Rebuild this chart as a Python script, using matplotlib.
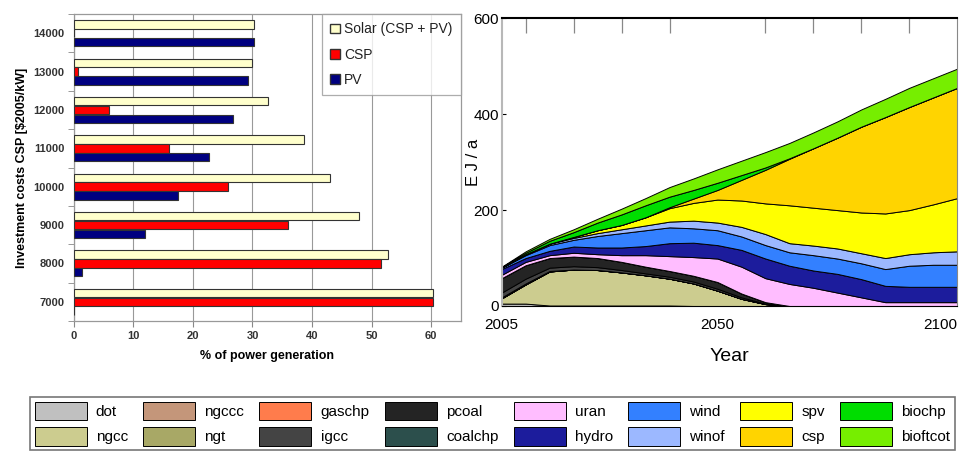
import matplotlib
matplotlib.use('Agg')
import matplotlib.pyplot as plt
from matplotlib.patches import Patch
import numpy as np

NARROW = ['Liberation Sans Narrow', 'Liberation Sans', 'DejaVu Sans']
plt.rcParams['font.family'] = ['Liberation Sans', 'DejaVu Sans']

# left chart: share of power generation vs. CSP investment cost
costs = ['7000', '8000', '9000', '10000', '11000', '12000', '13000', '14000']
solar = [60.3, 52.8, 47.9, 43.1, 38.6, 32.6, 30.0, 30.3]
csp_share = [60.3, 51.6, 36.0, 25.9, 15.9, 5.9, 0.7, 0.0]
pv_share = [0.0, 1.3, 12.0, 17.4, 22.7, 26.8, 29.3, 30.3]

# right chart: generation by technology, EJ/a (layer thickness, bottom to top)
years = [2005, 2010, 2015, 2020, 2025, 2030, 2035, 2040, 2045, 2050,
         2055, 2060, 2065, 2070, 2075, 2080, 2085, 2090, 2095, 2100]
dot = [5, 5, 1, 1, 1, 1, 1, 1, 0, 0, 0, 0, 0, 0, 0, 0, 0, 0, 0, 0]
ngcc = [11, 40, 71, 75, 74, 69, 63, 56, 47, 32, 15, 4, 0, 0, 0, 0, 0, 0, 0, 0]
ngccc = [0] * 20
ngt = [0] * 20
gaschp = [2, 2, 1, 0, 0, 0, 0, 0, 0, 0, 0, 0, 0, 0, 0, 0, 0, 0, 0, 0]
igcc = [10, 10, 7, 7, 6, 5, 4, 4, 4, 4, 3, 1, 0, 0, 0, 0, 0, 0, 0, 0]
pcoal = [30, 28, 20, 20, 19, 17, 14, 12, 12, 14, 8, 3, 0, 0, 0, 0, 0, 0, 0, 0]
coalchp = [0] * 20
uran = [7, 7, 6, 8, 8, 14, 24, 31, 39, 49, 56, 50, 46, 38, 28, 18, 8, 8, 8, 8]
hydro = [12, 8, 9, 13, 14, 16, 19, 27, 30, 28, 35, 41, 38, 36, 39, 38, 34, 32, 32, 32]
wind = [3, 6, 12, 14, 24, 30, 33, 33, 30, 31, 28, 28, 28, 32, 32, 33, 35, 44, 46, 46]
winof = [0, 2, 3, 4, 6, 8, 10, 12, 16, 16, 20, 23, 19, 20, 21, 21, 23, 24, 26, 28]
spv = [0, 0, 0, 2, 6, 9, 17, 28, 37, 48, 55, 64, 79, 79, 80, 85, 93, 92, 100, 111]
csp = [0, 0, 0, 0, 0, 0, 0, 2, 9, 20, 43, 70, 97, 124, 151, 179, 201, 215, 223, 230]
biochp = [1, 3, 6, 10, 16, 22, 25, 22, 18, 15, 10, 5, 1, 0, 0, 0, 0, 0, 0, 0]
bioftcot = [1, 3, 4, 6, 8, 12, 15, 20, 24, 28, 30, 32, 32, 33, 34, 36, 38, 40, 40, 40]

tech_names = ['dot', 'ngcc', 'ngccc', 'ngt', 'gaschp', 'igcc', 'pcoal', 'coalchp',
              'uran', 'hydro', 'wind', 'winof', 'spv', 'csp', 'biochp', 'bioftcot']
tech_data = [dot, ngcc, ngccc, ngt, gaschp, igcc, pcoal, coalchp,
             uran, hydro, wind, winof, spv, csp, biochp, bioftcot]
tech_colors = ['#c0c0c0', '#cccc8f', '#c4967a', '#a8a866', '#ff7c4c', '#444444',
               '#242424', '#2c4f4c', '#ffbdff', '#1c1c9c', '#3380ff', '#9cb8ff',
               '#ffff00', '#ffd400', '#00dd00', '#76ee00']

fig = plt.figure(figsize=(9.67, 4.54), dpi=100)

# ---------- left: bar chart ----------
ax1 = fig.add_axes([0.0765, 0.293, 0.400, 0.676])
y = np.arange(len(costs))
h = 0.22
ax1.barh(y + 0.23, solar, height=h, color='#ffffcc', edgecolor='#333333', lw=0.8, zorder=3)
ax1.barh(y, csp_share, height=h, color='#ff0000', edgecolor='#333333', lw=0.8, zorder=3)
ax1.barh(y - 0.23, pv_share, height=h, color='#000080', edgecolor='#333333', lw=0.8, zorder=3)

ax1.set_xlim(0, 65)
ax1.set_ylim(-0.5, 7.5)
ax1.set_xticks(range(0, 61, 10))
ax1.set_yticks(y)
ax1.set_yticklabels(costs)
ax1.set_yticks(np.arange(-0.5, 8, 1), minor=True)
ax1.tick_params(axis='y', which='major', length=0, labelsize=8, labelcolor='#333333', pad=7)
ax1.tick_params(axis='y', which='minor', length=4, color='#888888')
ax1.tick_params(axis='x', length=4, color='#888888', labelsize=8, labelcolor='#333333')
for lab in ax1.get_yticklabels() + ax1.get_xticklabels():
    lab.set_fontweight('bold')
ax1.xaxis.grid(True, color='#999999', lw=0.8)
ax1.set_axisbelow(True)
for s in ax1.spines.values():
    s.set_color('#999999')
    s.set_linewidth(0.9)
ax1.set_xlabel('% of power generation', fontsize=9, fontweight='bold', labelpad=6)
ax1.set_ylabel('Investment costs CSP [$2005/kW]', fontsize=9, fontweight='bold', labelpad=4)

handles = [Patch(facecolor='#ffffcc', edgecolor='#333333'),
           Patch(facecolor='#ff0000', edgecolor='#333333'),
           Patch(facecolor='#000080', edgecolor='#333333')]
leg1 = ax1.legend(handles, ['Solar (CSP + PV)', 'CSP', 'PV'], loc='upper right',
                  bbox_to_anchor=(1, 1), borderaxespad=0, fancybox=False,
                  fontsize=10, handlelength=0.7, handleheight=0.7, handletextpad=0.3,
                  labelspacing=0.8, borderpad=0.6)
leg1.get_frame().set_edgecolor('#999999')
leg1.get_frame().set_linewidth(0.9)
for t in leg1.get_texts():
    t.set_color('#222222')

# ---------- right: stacked area ----------
ax2 = fig.add_axes([0.5188, 0.326, 0.4711, 0.6337])
polys = ax2.stackplot(years, *tech_data, colors=tech_colors, labels=tech_names,
                      edgecolor='black', linewidth=0.7)
ax2.set_xlim(2005, 2100)
ax2.set_ylim(0, 600)
ax2.set_xticks([2005, 2050, 2100])
ax2.set_xticks(range(2010, 2100, 10), minor=True)
ax2.set_yticks([0, 200, 400, 600])
ax2.tick_params(axis='x', which='major', length=0, pad=9)
ax2.tick_params(axis='x', which='minor', top=True, bottom=False, direction='in',
                length=11, color='#888888', width=0.9)
ax2.tick_params(axis='y', direction='in', length=3, pad=2)
for lab in ax2.get_xticklabels() + ax2.get_yticklabels():
    lab.set_family(NARROW)
    lab.set_fontsize(11)
xlabs = ax2.get_xticklabels()
xlabs[-1].set_horizontalalignment('right')
xlabs[-1].set_x(2102)
ax2.spines['left'].set_color('#b8b8b8')
ax2.spines['left'].set_linewidth(1.5)
ax2.spines['top'].set_color('black')
ax2.spines['top'].set_linewidth(1.5)
ax2.spines['right'].set_color('#888888')
ax2.spines['bottom'].set_color('black')
ax2.set_xlabel('Year', family=NARROW, fontsize=14)
ax2.xaxis.set_label_coords(0.5, -0.145)
ax2.set_ylabel('E J / a', family=NARROW, fontsize=12)
ax2.yaxis.set_label_coords(-0.045, 0.5)

# ---------- bottom legend ----------
leg2 = fig.legend(polys, tech_names, ncol=8, loc='upper left',
                  bbox_to_anchor=(0.031, 1 - 397 / 454), borderaxespad=0,
                  fancybox=False, prop={'family': NARROW, 'size': 11},
                  handlelength=3.4, handleheight=1.5, handletextpad=0.6,
                  columnspacing=1.0, labelspacing=0.45, borderpad=0.3)
leg2.get_frame().set_edgecolor('#555555')
leg2.get_frame().set_linewidth(1.2)

fig.savefig('out.png', dpi=100)
